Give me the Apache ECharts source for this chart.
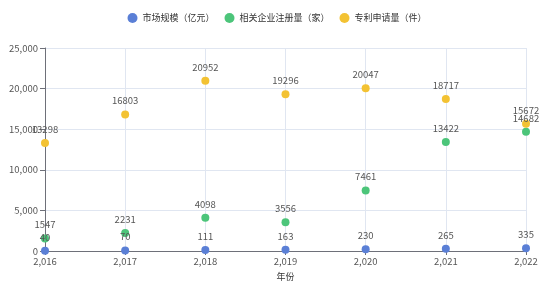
<!DOCTYPE html>
<html><head><meta charset="utf-8">
<script src="https://cdn.jsdelivr.net/npm/echarts@6/dist/echarts.min.js"></script>
<style>html,body{margin:0;padding:0;background:#fff}#c{width:554px;height:288px}</style>
</head><body><div id="c"></div>
<script>
var years = [2016, 2017, 2018, 2019, 2020, 2021, 2022];
var marketSize = [40, 70, 111, 163, 230, 265, 335];
var companies = [1547, 2231, 4098, 3556, 7461, 13422, 14682];
var patents = [13298, 16803, 20952, 19296, 20047, 18717, 15672];
var seriesNames = ['市场规模（亿元）', '相关企业注册量（家）', '专利申请量（件）'];
function pairs(v){ return years.map(function(y,i){ return [y, v[i]]; }); }
var chart = echarts.init(document.getElementById('c'));
var colors = ['#5a7fd6', '#4cc57a', '#f3c233'];
function s(name, v, c){
  return {name:name, type:'scatter', data:pairs(v), symbolSize:8,
    itemStyle:{color:c, opacity:1},
    label:{show:true, position:'top', distance:5, color:'#555', fontSize:9.5, formatter:function(p){return p.value[1];}}};
}
chart.setOption({
  animation:false,
  textStyle:{fontFamily:'"Noto Sans CJK SC", "Noto Sans", sans-serif'},
  legend:{top:8, left:'center', icon:'circle', itemWidth:10, itemHeight:10, itemGap:10,
    textStyle:{color:'#333', fontSize:9}},
  grid:{left:45, right:28, top:48, bottom:37, outerBoundsMode:'none', containLabel:false},
  xAxis:{type:'value', min:2016, max:2022, interval:1, name:'年份', nameLocation:'middle', nameGap:21,
    nameTextStyle:{color:'#333', fontSize:9},
    axisLine:{show:true, lineStyle:{color:'#6e7079'}}, axisTick:{show:true, length:4},
    axisLabel:{color:'#555', fontSize:9.5, margin:6},
    splitLine:{show:true, lineStyle:{color:'#e0e6f1'}}},
  yAxis:{type:'value', min:0, max:25000, interval:5000,
    axisLine:{show:true, lineStyle:{color:'#6e7079'}}, axisTick:{show:true, length:5},
    axisLabel:{color:'#555', fontSize:9.5, margin:7},
    splitLine:{show:true, lineStyle:{color:'#e0e6f1'}}},
  series:[s(seriesNames[0], marketSize, colors[0]), s(seriesNames[1], companies, colors[1]), s(seriesNames[2], patents, colors[2])]
});
</script></body></html>
